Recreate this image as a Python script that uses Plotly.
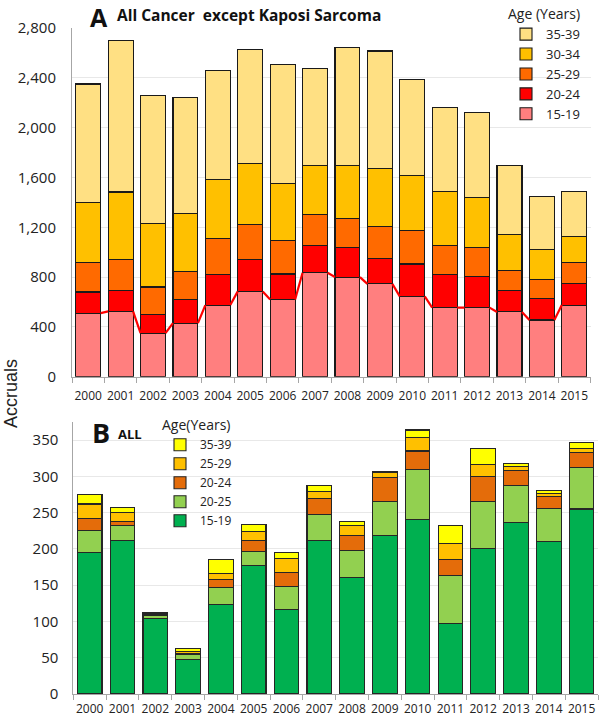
import plotly.graph_objects as go

years = list(range(2000, 2016))

# Panel A: All Cancer except Kaposi Sarcoma (segment values, stacked)
a_labels = ["15-19", "20-24", "25-29", "30-34", "35-39"]
a_15_19 = [510, 525, 350, 430, 575, 685, 620, 835, 800, 745, 645, 555, 555, 520, 455, 575]
a_20_24 = [170, 170, 150, 190, 245, 255, 205, 215, 235, 205, 260, 265, 250, 170, 175, 170]
a_25_29 = [235, 245, 220, 225, 290, 285, 270, 250, 235, 255, 270, 230, 230, 165, 150, 170]
a_30_34 = [485, 543, 510, 465, 475, 485, 455, 395, 425, 470, 440, 435, 405, 285, 240, 210]
a_35_39 = [950, 1217, 1025, 935, 875, 920, 955, 780, 950, 940, 775, 680, 680, 555, 430, 360]

# Panel B: ALL
b_labels = ["15-19", "20-25", "20-24", "25-29", "35-39"]
b_15_19 = [195, 212, 104, 48, 123, 177, 117, 212, 161, 219, 240, 97, 201, 236, 210, 255]
b_20_25 = [30, 20, 4, 6, 24, 20, 31, 35, 37, 47, 69, 66, 64, 52, 46, 57]
b_20_24 = [17, 6, 2, 2, 11, 15, 20, 22, 20, 33, 26, 22, 35, 20, 16, 21]
b_25_29 = [20, 12, 1, 3, 8, 12, 19, 10, 14, 6, 19, 23, 17, 6, 4, 6]
b_35_39 = [13, 7, 1, 4, 20, 10, 8, 9, 6, 2, 10, 24, 21, 4, 4, 8]

a_colors = ["#FF7F7F", "#FF0000", "#FF6A00", "#FFC000", "#FFE083"]
b_colors = ["#00B050", "#92D050", "#E46C0A", "#FFC000", "#FFFF00"]

W = 0.77
FONT = "Open Sans"
W_PX, H_PX = 600.0, 719.0


def px(x):
    return x / W_PX


def py(y):
    return 1 - y / H_PX


fig = go.Figure()

for lab, vals, col in zip(a_labels, [a_15_19, a_20_24, a_25_29, a_30_34, a_35_39], a_colors):
    fig.add_trace(go.Bar(x=years, y=vals, name=lab, width=W,
                         marker=dict(color=col, line=dict(color="#1a1a1a", width=1.1)),
                         xaxis="x", yaxis="y", legend="legend"))

# series lines connecting the tops of the 15-19 segment between bars
lx, ly = [], []
for i in range(len(years) - 1):
    lx += [years[i] + W / 2, years[i + 1] - W / 2, None]
    ly += [a_15_19[i], a_15_19[i + 1], None]
fig.add_trace(go.Scatter(x=lx, y=ly, mode="lines", line=dict(color="#FF0000", width=2.2), showlegend=False,
                         xaxis="x", yaxis="y", hoverinfo="skip"))

for lab, vals, col in zip(b_labels, [b_15_19, b_20_25, b_20_24, b_25_29, b_35_39], b_colors):
    fig.add_trace(go.Bar(x=years, y=vals, name=lab, width=0.75,
                         marker=dict(color=col, line=dict(color="#262626", width=1.1)),
                         xaxis="x2", yaxis="y2", legend="legend2"))


def xaxis_style(standoff):
    return dict(tickmode="array", tickvals=years, ticktext=[str(y) for y in years], ticks="",
                showline=True, linecolor="#A6A6A6", linewidth=1, showgrid=False, zeroline=False,
                tickfont=dict(family=FONT, size=12, color="#222"), ticklabelstandoff=standoff,
                minor=dict(tickmode="array", tickvals=[y - 0.5 for y in years] + [years[-1] + 0.5],
                           ticks="outside", ticklen=5, tickcolor="#A6A6A6", showgrid=False),
                range=[years[0] - 0.5, years[-1] + 0.5])


ycommon = dict(showline=True, linecolor="#A6A6A6", linewidth=1, showgrid=True, gridcolor="#E8E8E8",
               zeroline=False, ticks="", tickfont=dict(family=FONT, size=15, color="#222"))

fig.update_layout(
    width=600, height=719, barmode="stack", plot_bgcolor="white", paper_bgcolor="white",
    margin=dict(l=0, r=0, t=0, b=0, autoexpand=False),
    xaxis=dict(domain=[px(72), px(590.5)], anchor="y", **xaxis_style(8)),
    yaxis=dict(domain=[py(376.7), py(28)], anchor="x", range=[0, 2800], tickvals=list(range(0, 2801, 400)),
               ticktext=[f"{v:,}" for v in range(0, 2801, 400)], ticklabelstandoff=12, **ycommon),
    xaxis2=dict(domain=[px(73.3), px(598)], anchor="y2", **xaxis_style(4)),
    yaxis2=dict(domain=[py(694), py(422)], anchor="x2", range=[0, 375], tickvals=list(range(0, 351, 50)),
                ticklabelstandoff=11, **ycommon),
    legend=dict(x=px(506), y=py(1), xanchor="left", yanchor="top", traceorder="reversed",
                title=dict(text="Age (Years)", font=dict(family=FONT, size=14, color="#222")),
                font=dict(family=FONT, size=13, color="#222"), bgcolor="rgba(0,0,0,0)", tracegroupgap=0),
    legend2=dict(x=px(160), y=py(412), xanchor="left", yanchor="top", traceorder="reversed",
                 title=dict(text="Age(Years)", font=dict(family=FONT, size=14, color="#222")),
                 font=dict(family=FONT, size=12, color="#222"), bgcolor="rgba(0,0,0,0)", tracegroupgap=0),
    showlegend=True,
)

fig.add_annotation(text="<b>A</b>", x=px(89), y=py(17.5), xref="paper", yref="paper", xanchor="left",
                   yanchor="middle", showarrow=False, borderpad=0, font=dict(family=FONT, size=25, color="#111"))
fig.add_annotation(text="<b>All Cancer  except Kaposi Sarcoma</b>", x=px(115), y=py(15), xref="paper",
                   yref="paper", xanchor="left", yanchor="middle", showarrow=False,
                   font=dict(family=FONT, size=15.5, color="#111"))
fig.add_annotation(text="<b>B</b>", x=px(90), y=py(432), xref="paper", yref="paper", xanchor="left",
                   yanchor="middle", showarrow=False, font=dict(family=FONT, size=27, color="#111"))
fig.add_annotation(text="<b>ALL</b>", x=px(116), y=py(434), xref="paper", yref="paper", xanchor="left",
                   yanchor="middle", showarrow=False, font=dict(family=FONT, size=13, color="#111"))
fig.add_annotation(text="Accruals", x=px(11), y=py(394), xref="paper", yref="paper", xanchor="center",
                   yanchor="middle", textangle=-90, showarrow=False,
                   font=dict(family="Liberation Sans", size=18, color="#222"))

fig.write_html("out.html", config={"displayModeBar": False},
               post_script="document.body.style.margin='0px';")
